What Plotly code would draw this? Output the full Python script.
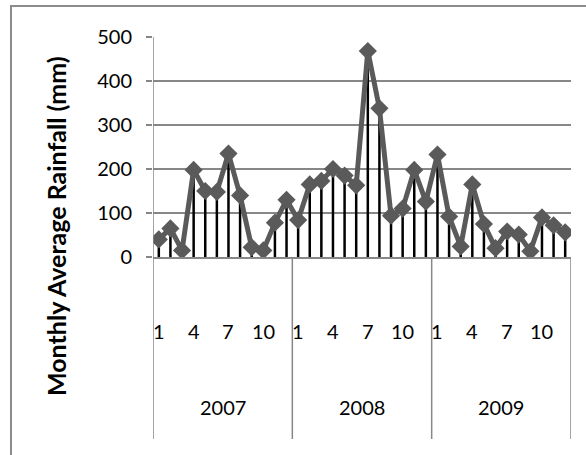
import plotly.graph_objects as go

# Monthly average rainfall (mm), Jan-Dec for each year
years = ["2007", "2008", "2009"]
months = list(range(1, 13))
month_labels = ["1", "4", "7", "10"]
rain_2007 = [40, 65, 15, 198, 150, 148, 235, 140, 22, 15, 78, 130]
rain_2008 = [84, 165, 173, 200, 185, 163, 468, 338, 94, 110, 198, 126]
rain_2009 = [233, 92, 24, 165, 75, 20, 58, 51, 13, 90, 72, 56]
y_ticks = [0, 100, 200, 300, 400, 500]

series = [rain_2007, rain_2008, rain_2009]
values = [v for s in series for v in s]
n = len(values)
xpos = [i + 0.5 for i in range(n)]

FONT = "Lato, 'Open Sans', sans-serif"
GRID = "#878787"
LINE = "#5a5a5a"
FS = 20

fig = go.Figure()

# vertical drop lines from the axis to each point
dx, dy = [], []
for x, v in zip(xpos, values):
    dx += [x, x, None]
    dy += [0, v, None]
fig.add_trace(go.Scatter(x=dx, y=dy, mode="lines",
                         line=dict(color="black", width=2.5),
                         hoverinfo="skip", showlegend=False))

fig.add_trace(go.Scatter(
    x=xpos, y=values, mode="lines+markers",
    line=dict(color=LINE, width=5),
    marker=dict(symbol="diamond", size=14, color=LINE),
    showlegend=False))

annotations = []
shapes = []
plot_h = 220.0
plot_w = 418.0
month_y = (257 - 331) / plot_h
year_y = (257 - 407) / plot_h
div_bottom = (257 - 439) / plot_h

for yi, yr in enumerate(years):
    base = yi * 12
    for m in month_labels:
        annotations.append(dict(x=base + int(m) - 0.5, y=month_y, xref="x", yref="paper",
                                text=m, showarrow=False, xanchor="center", yanchor="middle",
                                font=dict(family=FONT, size=FS, color="black")))
    annotations.append(dict(x=base + 6, y=year_y, xref="x", yref="paper",
                            text=yr, showarrow=False, xanchor="center", yanchor="middle",
                            font=dict(family=FONT, size=FS, color="black")))
    # category dividers
    shapes.append(dict(type="line", xref="x", yref="paper", x0=base + 12, x1=base + 12,
                       y0=0, y1=div_bottom, line=dict(color=GRID, width=1.5)))

# y axis line running down through the category band
shapes.append(dict(type="line", xref="x", yref="paper", x0=0, x1=0,
                   y0=1, y1=div_bottom, line=dict(color=GRID, width=1.5)))

# chart frame
shapes.append(dict(type="rect", xref="paper", yref="paper",
                   x0=(11 - 153) / plot_w, x1=1.2, y0=-1.5, y1=1 + 31 / plot_h,
                   line=dict(color="#8c8c8c", width=2), fillcolor="rgba(0,0,0,0)", layer="below"))

annotations.append(dict(x=(56 - 153) / plot_w, y=0.5 + (147 - 226) / plot_h,
                        xref="paper", yref="paper", text="<b>Monthly Average Rainfall (mm)</b>",
                        textangle=-90, showarrow=False, xanchor="center", yanchor="middle",
                        font=dict(family=FONT, size=25, color="black")))

fig.update_layout(
    width=586, height=455,
    margin=dict(l=153, r=15, t=37, b=198),
    paper_bgcolor="white", plot_bgcolor="white",
    annotations=annotations, shapes=shapes,
    xaxis=dict(range=[0, n], showgrid=False, showticklabels=False, ticks="",
               zeroline=False, showline=True, linecolor=GRID, linewidth=1.5),
    yaxis=dict(range=[0, 500], tickvals=y_ticks, showgrid=True, gridcolor=GRID, gridwidth=1.5,
               zeroline=False, showline=False, ticks="outside", ticklen=6, tickcolor=GRID,
               tickwidth=1.5, ticklabelstandoff=10,
               tickfont=dict(family=FONT, size=FS, color="black")),
)

fig.write_html("out.html")
